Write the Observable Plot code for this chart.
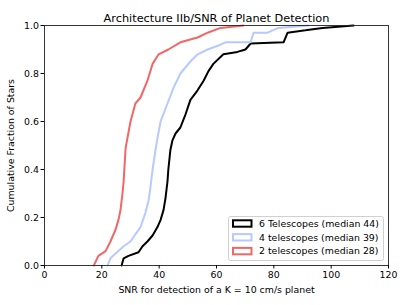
<!DOCTYPE html>
<html>
<head>
<meta charset="utf-8">
<script src="https://cdn.jsdelivr.net/npm/d3@7"></script>
<script src="https://cdn.jsdelivr.net/npm/@observablehq/plot@0.6"></script>
<style>
  html, body { margin: 0; padding: 0; background: #fff; }
  #chart svg { display: block; font-family: "DejaVu Sans", sans-serif; }
</style>
</head>
<body>
<div id="chart"></div>
<script>
const title = "Architecture IIb/SNR of Planet Detection";
const xLabel = "SNR for detection of a K = 10 cm/s planet";
const yLabel = "Cumulative Fraction of Stars";
const xTicks = [0, 20, 40, 60, 80, 100, 120];
const yTicks = [0, 0.2, 0.4, 0.6, 0.8, 1.0];

const seriesNames = ["6 Telescopes (median 44)", "4 telescopes (median 39)", "2 telescopes (median 28)"];
const seriesColors = ["#000000", "#b7c9ff", "#f26666"];

// 6 telescopes
const snr6  = [26.9, 27.6, 29.3, 32.8, 34.2, 35.9, 37.7, 39.4, 40.5, 41.5, 42.2, 42.9, 43.2, 43.9, 44.6, 45.7, 47.4, 49.2, 50.9, 53.4, 55.5, 57.2, 58.9, 62.4, 67.3, 70.1, 71.9, 83.4, 84.8, 91.0, 97.0, 107.8];
const frac6 = [0.0, 0.03, 0.04, 0.055, 0.08, 0.10, 0.125, 0.16, 0.19, 0.23, 0.28, 0.35, 0.40, 0.48, 0.52, 0.55, 0.575, 0.63, 0.69, 0.73, 0.77, 0.81, 0.84, 0.88, 0.89, 0.90, 0.925, 0.93, 0.97, 0.98, 0.99, 1.0];
// 4 telescopes
const snr4  = [22.0, 23.0, 24.8, 27.6, 30.0, 31.7, 33.5, 35.2, 36.3, 37.0, 37.7, 38.7, 39.4, 40.5, 42.9, 45.0, 47.4, 50.9, 53.4, 56.9, 61.4, 63.1, 71.9, 72.9, 77.8, 81.6, 92.1];
const frac4 = [0.0, 0.03, 0.05, 0.08, 0.10, 0.13, 0.16, 0.22, 0.27, 0.33, 0.40, 0.48, 0.53, 0.60, 0.675, 0.74, 0.80, 0.85, 0.88, 0.90, 0.92, 0.93, 0.93, 0.97, 0.97, 0.99, 1.0];
// 2 telescopes
const snr2  = [17.2, 18.8, 21.3, 23.0, 24.8, 25.8, 26.5, 27.2, 27.6, 28.3, 30.0, 31.7, 33.5, 35.9, 37.7, 39.8, 43.2, 47.4, 53.4, 56.9, 61.4, 69.4];
const frac2 = [0.0, 0.04, 0.06, 0.10, 0.15, 0.19, 0.23, 0.30, 0.35, 0.49, 0.60, 0.675, 0.70, 0.77, 0.84, 0.88, 0.90, 0.93, 0.95, 0.97, 0.99, 1.0];

const seriesData = [[snr6, frac6], [snr4, frac4], [snr2, frac2]];
const rows = seriesData.flatMap(([xs, ys], i) => xs.map((x, j) => ({series: seriesNames[i], snr: x, frac: ys[j]})));

const font = "DejaVu Sans";
const fs = 9.4;
const plot = Plot.plot({
  width: 407,
  height: 305,
  marginLeft: 44,
  marginRight: 19,
  marginTop: 25,
  marginBottom: 40,
  style: {fontFamily: font, fontSize: fs + "px", background: "#fff", color: "#000"},
  x: {domain: [0, 120]},
  y: {domain: [0, 1]},
  marks: [
    Plot.line(rows, {
      x: "snr", y: "frac", z: "series",
      stroke: d => seriesColors[seriesNames.indexOf(d.series)],
      strokeWidth: 2, curve: "linear", strokeLinejoin: "miter"
    }),
    Plot.frame({stroke: "#222", strokeWidth: 0.9}),
    Plot.axisX({ticks: xTicks, tickSize: 3.5, tickPadding: 2, fontSize: fs, label: xLabel, labelAnchor: "center", labelArrow: "none", labelOffset: 27, tickFormat: d3.format("d")}),
    Plot.axisY({ticks: yTicks, tickSize: 3.5, tickPadding: 2, fontSize: fs, label: yLabel, labelAnchor: "center", labelArrow: "none", labelOffset: 37, tickFormat: d3.format(".1f")}),
    Plot.text([title], {frameAnchor: "top", lineAnchor: "bottom", dy: -4, fontSize: 11.3, fill: "#000"})
  ]
});
document.getElementById("chart").appendChild(plot);

// Legend (matplotlib style, lower right inside the axes)
const svg = d3.select(plot);
const lg = svg.append("g").attr("font-family", font).attr("font-size", fs).attr("text-anchor", "start");
lg.append("rect").attr("x", 228.5).attr("y", 216.5).attr("width", 155).attr("height", 44)
  .attr("rx", 2).attr("fill", "#fff").attr("fill-opacity", 0.85).attr("stroke", "#d0d0d0").attr("stroke-width", 1);
seriesNames.forEach((name, i) => {
  const cy = 223.5 + i * 13.8;
  lg.append("rect").attr("x", 233).attr("y", cy - 3.2).attr("width", 18.5).attr("height", 6.4)
    .attr("fill", "none").attr("stroke", seriesColors[i]).attr("stroke-width", 2);
  lg.append("text").attr("x", 259).attr("y", cy).attr("dy", "0.35em").attr("text-anchor", "start").attr("fill", "#000").text(name);
});
</script>
</body>
</html>
